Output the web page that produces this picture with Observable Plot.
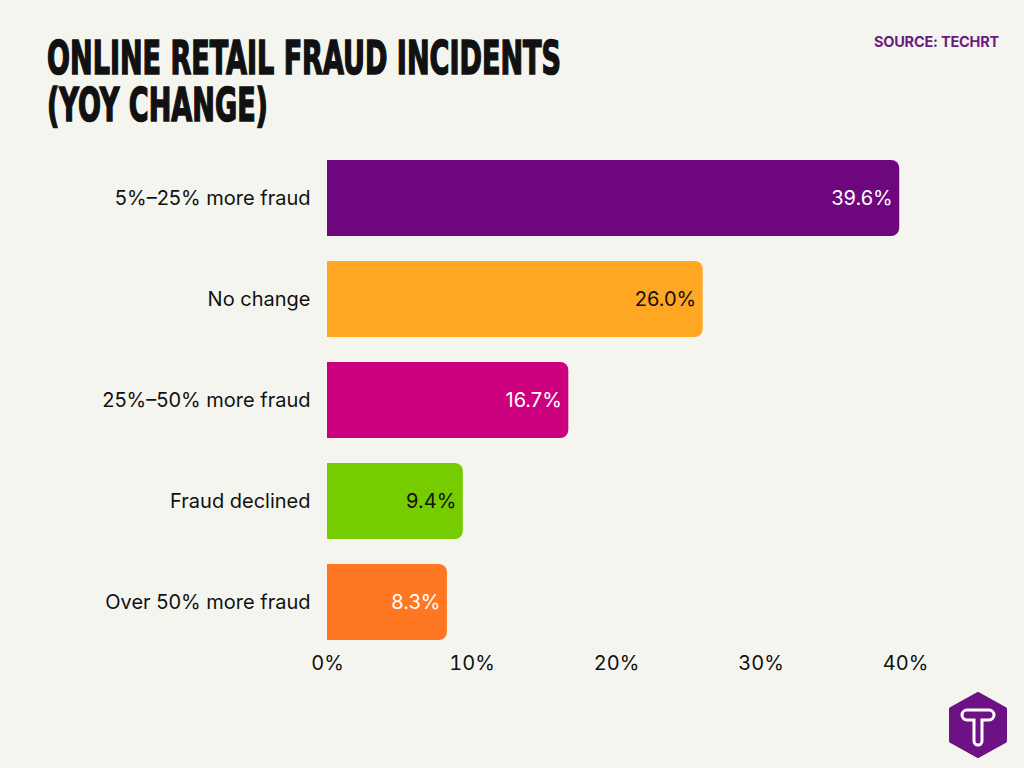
<!DOCTYPE html>
<html>
<head>
<meta charset="utf-8">
<script src="https://cdn.jsdelivr.net/npm/d3@7"></script>
<script src="https://cdn.jsdelivr.net/npm/@observablehq/plot@0.6"></script>
<style>
  html, body { margin: 0; padding: 0; background: #F5F5F0; }
  body { width: 1024px; height: 768px; position: relative; overflow: hidden; font-family: Inter, "Noto Sans", sans-serif; }
  .title { position: absolute; left: 47px; font-family: "DejaVu Sans Condensed", "DejaVu Sans", sans-serif; font-stretch: condensed; font-weight: 700; font-size: 47px; line-height: 46px; height: 46px; color: #111; -webkit-text-stroke: 1.6px #111; transform: scaleX(0.64); transform-origin: left top; white-space: nowrap; }
  #t1 { top: 35px; }
  #t2 { top: 82px; }
  #source { position: absolute; right: 25px; top: 33px; font-family: Inter, sans-serif; font-weight: 700; font-size: 14.5px; color: #6B1B80; letter-spacing: -0.2px; }
  #chart { position: absolute; left: 0; top: 0; }
  #logo { position: absolute; left: 948px; top: 692px; }
</style>
</head>
<body>
<div id="chart"></div>
<div class="title" id="t1">ONLINE RETAIL FRAUD INCIDENTS</div>
<div class="title" id="t2">(YOY CHANGE)</div>
<div id="source">SOURCE: TECHRT</div>
<svg id="logo" width="60" height="66" viewBox="0 0 60 66">
  <polygon points="30,2 57,17 57,49 30,64 3,49 3,17" fill="#6E1184" stroke="#6E1184" stroke-width="4" stroke-linejoin="round"/>
  <path d="M19,18 H41 A5,5 0 0 1 41,28 H34 V49 A4,4 0 0 1 26,49 V28 H19 A5,5 0 0 1 19,18 Z" fill="none" stroke="#fff" stroke-width="3"/>
</svg>
<script>
const categories = ["5%–25% more fraud", "No change", "25%–50% more fraud", "Fraud declined", "Over 50% more fraud"];
const values = [39.6, 26.0, 16.7, 9.4, 8.3];
const colors = ["#6E067E", "#FFA623", "#CC007F", "#77CC00", "#FF7722"];
const labelColors = ["#ffffff", "#111111", "#ffffff", "#111111", "#ffffff"];
const xTicks = [0, 10, 20, 30, 40];

const data = categories.map((c, i) => ({category: c, value: values[i], color: colors[i], labelColor: labelColors[i]}));

const chart = Plot.plot({
  width: 1024,
  height: 768,
  marginLeft: 327,
  marginRight: 119,
  marginTop: 148,
  marginBottom: 116,
  style: {background: "transparent", fontFamily: "Inter, sans-serif", fontSize: "20px", color: "#111"},
  x: {domain: [0, 40], ticks: xTicks, tickFormat: d => d + "%", label: null, tickSize: 0, tickPadding: 3},
  y: {domain: categories, paddingInner: 0.25, paddingOuter: 0.1, label: null, tickSize: 0, tickPadding: 17},
  marks: [
    Plot.barX(data, {y: "category", x: "value", fill: d => d.color, rx: 8}),
    Plot.barX(data, {y: "category", x1: 0, x2: d => d.value / 2, fill: d => d.color}),
    Plot.text(data, {y: "category", x: "value", text: d => d.value.toFixed(1) + "%", textAnchor: "end", dx: -7, fill: d => d.labelColor, fontSize: 20})
  ]
});
document.getElementById("chart").appendChild(chart);
</script>
</body>
</html>
